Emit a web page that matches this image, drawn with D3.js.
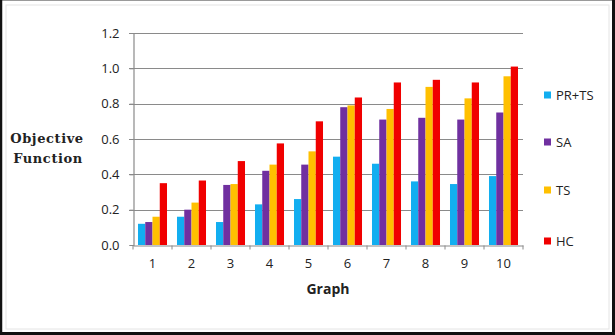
<!DOCTYPE html>
<html>
<head>
<meta charset="utf-8">
<script src="https://cdn.jsdelivr.net/npm/d3@7"></script>
<style>
  html, body { margin: 0; padding: 0; background: #fff; }
  svg { display: block; }
</style>
</head>
<body>
<div id="chart"></div>
<script>
// Data
const graphs = ["1", "2", "3", "4", "5", "6", "7", "8", "9", "10"];
const seriesNames = ["PR+TS", "SA", "TS", "HC"];
const prts = [0.12, 0.16, 0.13, 0.23, 0.26, 0.50, 0.46, 0.36, 0.345, 0.39];
const sa   = [0.13, 0.20, 0.34, 0.42, 0.455, 0.78, 0.71, 0.72, 0.71, 0.75];
const ts   = [0.16, 0.24, 0.345, 0.455, 0.53, 0.79, 0.77, 0.895, 0.83, 0.955];
const hc   = [0.35, 0.365, 0.475, 0.575, 0.70, 0.835, 0.92, 0.935, 0.92, 1.01];
const yTicks = [0, 0.2, 0.4, 0.6, 0.8, 1.0, 1.2];
const colors = ["#12aef0", "#7030a0", "#ffc000", "#f00000"];

const W = 615, H = 335;
const plot = {left: 133, right: 523, top: 33, bottom: 245};

const svg = d3.select("#chart").append("svg")
    .attr("width", W)
    .attr("height", H);

svg.append("rect").attr("width", W).attr("height", H).attr("fill", "#fff");

// outer frame
svg.append("rect")
    .attr("x", 6).attr("y", 5).attr("width", W - 12).attr("height", H - 11)
    .attr("fill", "none").attr("stroke", "#e4e4e4").attr("stroke-width", 1);
svg.append("line").attr("x1", 0).attr("x2", W).attr("y1", 0.5).attr("y2", 0.5)
    .attr("stroke", "#9a9a9a").attr("stroke-width", 1);
svg.append("line").attr("x1", 1).attr("x2", 1).attr("y1", 0).attr("y2", H)
    .attr("stroke", "#111").attr("stroke-width", 2.5);
svg.append("line").attr("x1", W - 1.5).attr("x2", W - 1.5).attr("y1", 0).attr("y2", H)
    .attr("stroke", "#111").attr("stroke-width", 3);
svg.append("line").attr("x1", 0).attr("x2", W).attr("y1", H - 1.5).attr("y2", H - 1.5)
    .attr("stroke", "#111").attr("stroke-width", 3);

const x = d3.scaleBand()
    .domain(graphs)
    .range([plot.left, plot.right])
    .paddingInner(0.256)
    .paddingOuter(0.128);

const xs = d3.scaleBand()
    .domain(seriesNames)
    .range([0, x.bandwidth()]);

const y = d3.scaleLinear()
    .domain([0, 1.2])
    .range([plot.bottom, plot.top]);

// gridlines
svg.append("g")
    .selectAll("line")
    .data(yTicks.slice(1))
    .join("line")
    .attr("x1", plot.left - 4)
    .attr("x2", plot.right)
    .attr("y1", d => Math.round(y(d)) + 0.5)
    .attr("y2", d => Math.round(y(d)) + 0.5)
    .attr("stroke", "#8a8a8a")
    .attr("stroke-width", 1.2);

// y axis
const yAxis = svg.append("g")
    .attr("transform", "translate(" + (plot.left + 0.5) + ",0)")
    .call(d3.axisLeft(y).tickValues(yTicks).tickSize(4).tickPadding(10)
        .tickFormat(d3.format(".1f")));
yAxis.select(".domain").attr("stroke", "#8a8a8a").attr("stroke-width", 1.2);
yAxis.selectAll(".tick line").attr("stroke", "#8a8a8a");
yAxis.selectAll("text")
    .attr("font-family", "'Open Sans', sans-serif")
    .attr("font-size", 13)
    .attr("fill", "#222");

// bars
const series = [prts, sa, ts, hc];
series.forEach((vals, si) => {
    svg.append("g")
        .selectAll("rect")
        .data(vals)
        .join("rect")
        .attr("x", (d, i) => x(graphs[i]) + xs(seriesNames[si]))
        .attr("width", xs.bandwidth())
        .attr("y", d => y(d))
        .attr("height", d => y(0) - y(d))
        .attr("fill", colors[si]);
});

// x axis with ticks at category boundaries
const xAxis = svg.append("g")
    .attr("transform", "translate(0," + (plot.bottom + 0.5) + ")")
    .call(d3.axisBottom(x).tickSize(0).tickPadding(13));
xAxis.select(".domain").attr("stroke", "#8a8a8a").attr("stroke-width", 1.2);
xAxis.selectAll("text")
    .attr("font-family", "'Open Sans', sans-serif")
    .attr("font-size", 13)
    .attr("fill", "#222");
xAxis.selectAll("line.sep")
    .data(graphs.concat([""]))
    .join("line")
    .attr("class", "sep")
    .attr("x1", (d, i) => plot.left + i * x.step())
    .attr("x2", (d, i) => plot.left + i * x.step())
    .attr("y1", 0)
    .attr("y2", 4)
    .attr("stroke", "#8a8a8a");

// axis titles
svg.append("text")
    .attr("x", (plot.left + plot.right) / 2)
    .attr("y", 294)
    .attr("text-anchor", "middle")
    .attr("font-family", "'Open Sans', sans-serif")
    .attr("font-weight", "bold")
    .attr("font-size", 14)
    .attr("fill", "#222")
    .text("Graph");

const yTitle = svg.append("text")
    .attr("font-family", "'DejaVu Serif', serif")
    .attr("font-weight", "bold")
    .attr("font-size", 13)
    .attr("fill", "#222")
    .attr("text-anchor", "middle");
yTitle.append("tspan").attr("x", 47).attr("y", 143).attr("letter-spacing", 0.6).text("Objective");
yTitle.append("tspan").attr("x", 48).attr("y", 163).attr("letter-spacing", 0.6).text("Function");

// legend
const legendY = [95, 142, 190, 241];
const legend = svg.append("g")
    .selectAll("g")
    .data(seriesNames)
    .join("g")
    .attr("transform", (d, i) => "translate(544," + legendY[i] + ")");
legend.append("rect")
    .attr("x", 0).attr("y", -3.5)
    .attr("width", 7).attr("height", 7)
    .attr("fill", (d, i) => colors[i]);
legend.append("text")
    .attr("x", 12)
    .attr("dy", "0.36em")
    .attr("font-family", "'Open Sans', sans-serif")
    .attr("font-size", 13)
    .attr("fill", "#222")
    .text(d => d);
</script>
</body>
</html>
